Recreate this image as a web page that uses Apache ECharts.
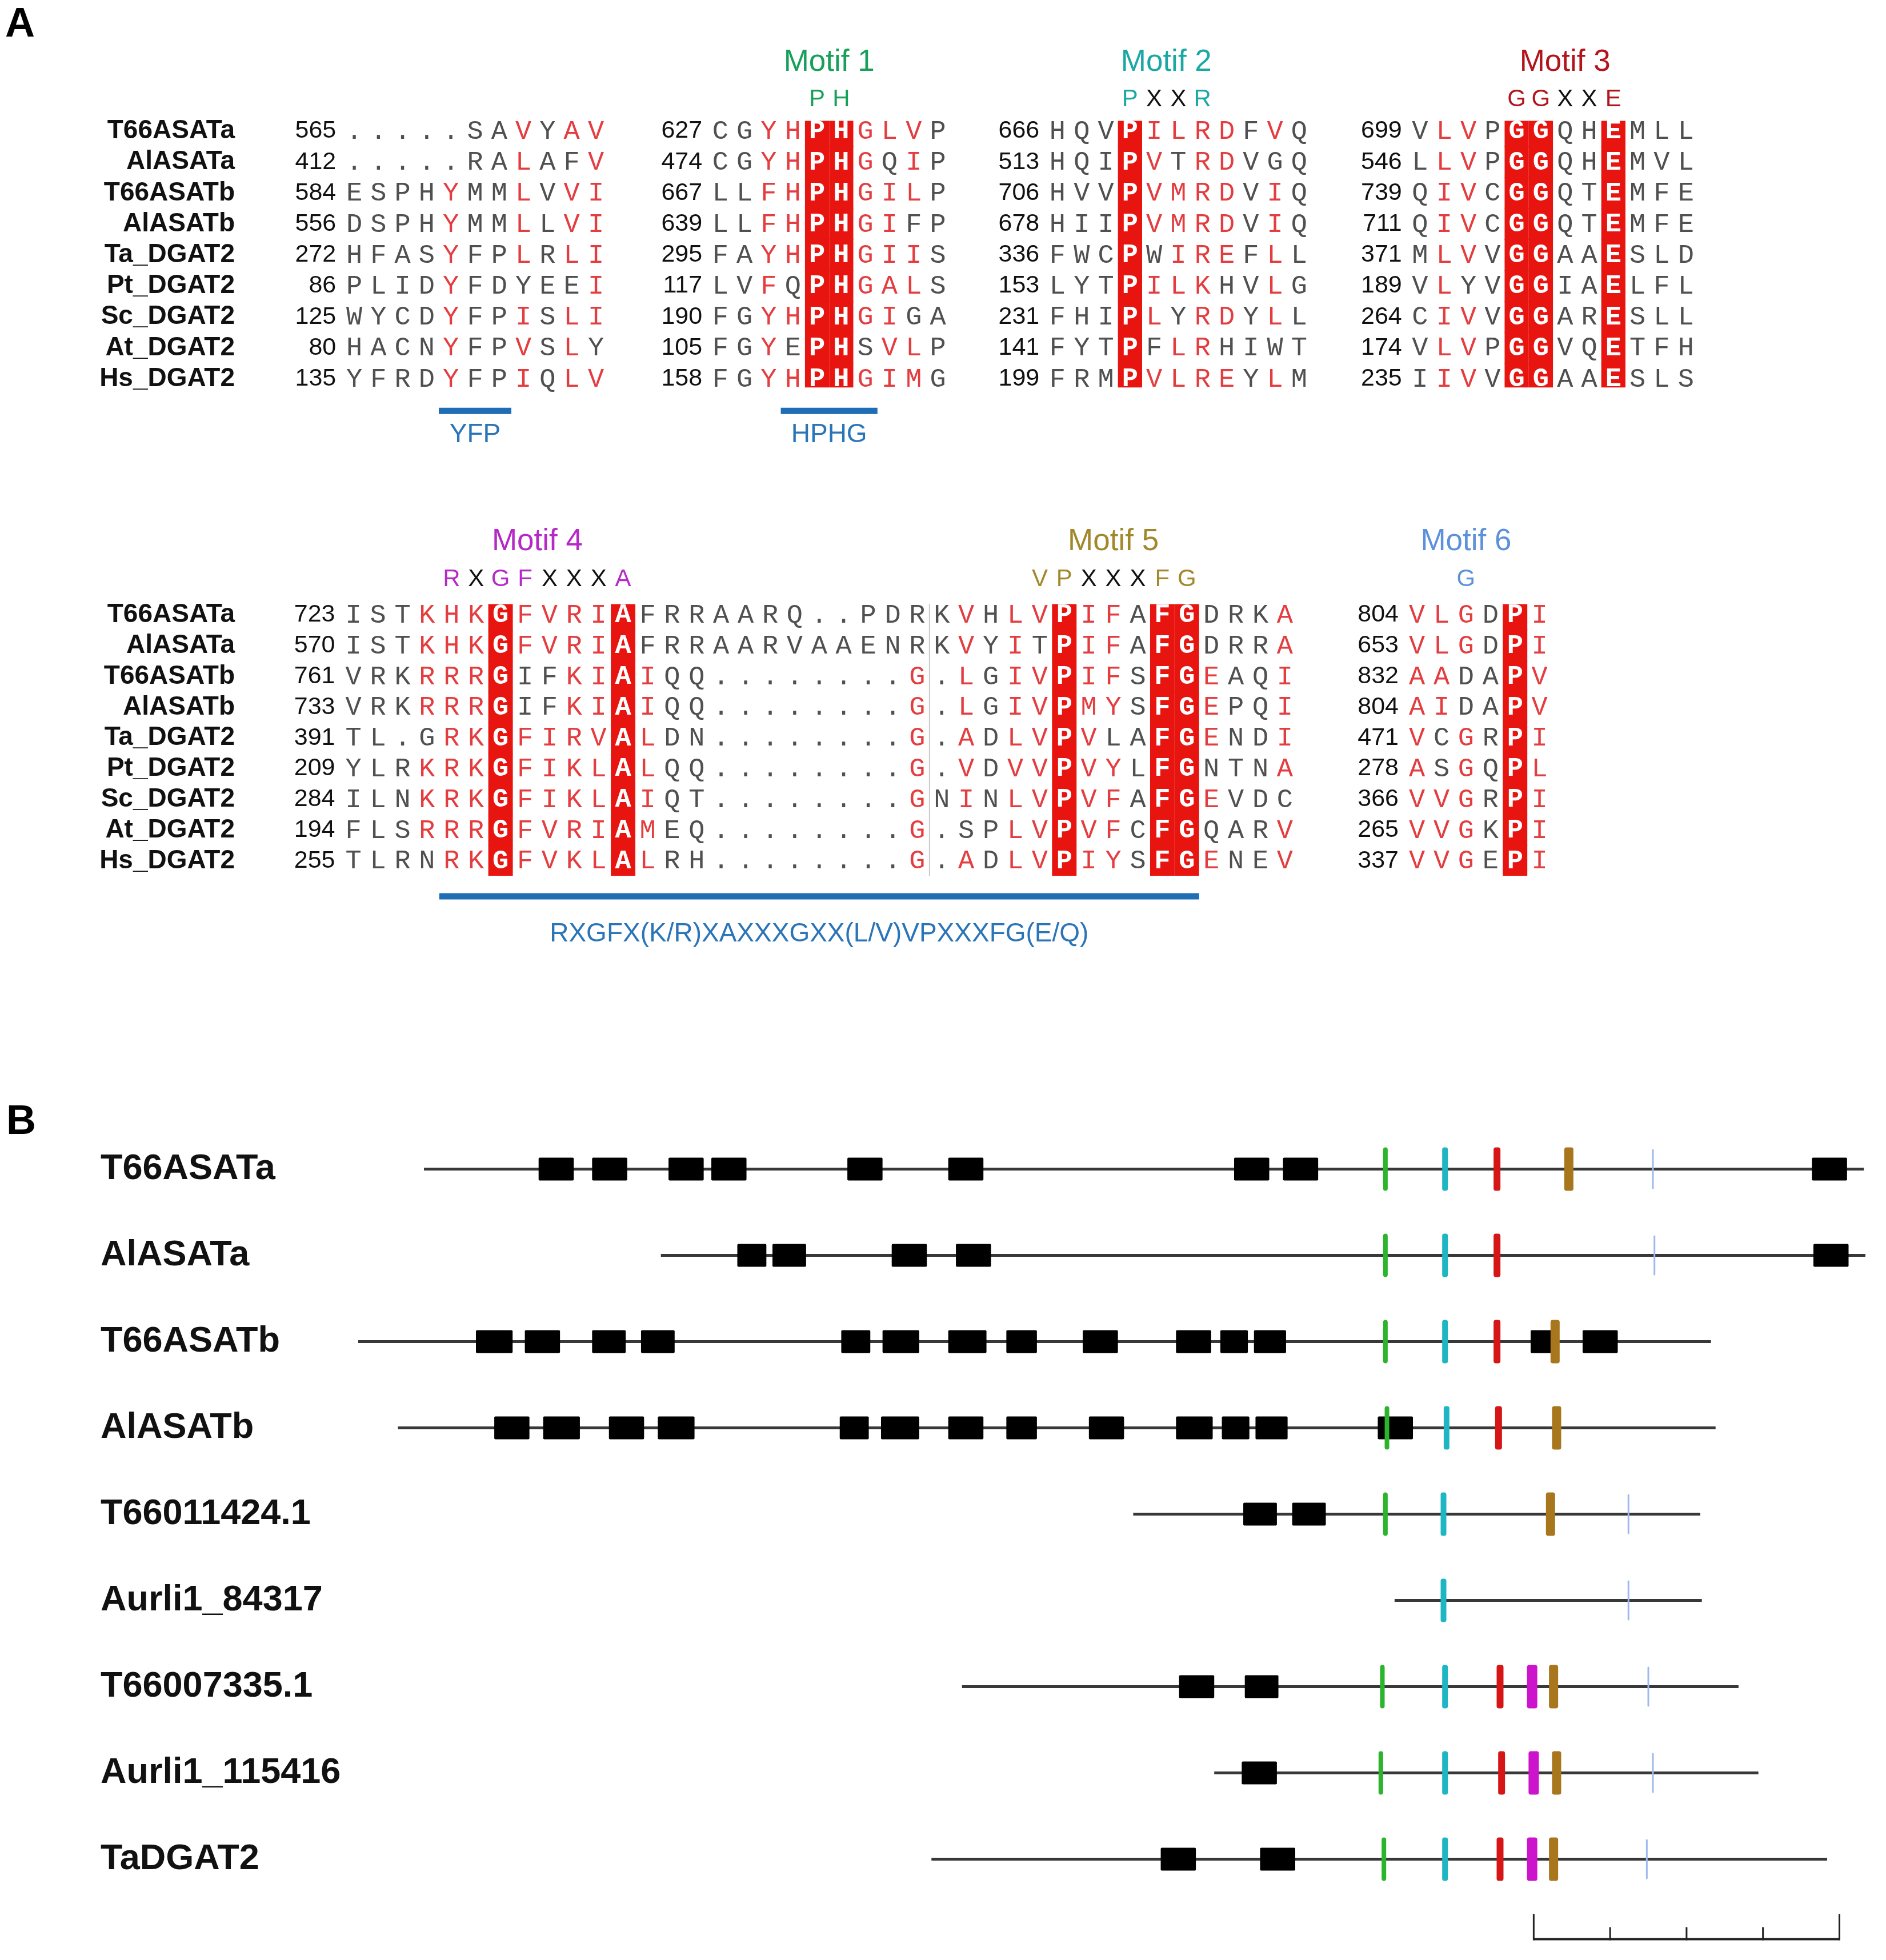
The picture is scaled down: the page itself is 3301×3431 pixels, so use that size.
<!DOCTYPE html>
<html>
<head>
<meta charset="utf-8">
<script src="https://cdn.jsdelivr.net/npm/echarts@6/dist/echarts.min.js"></script>
<style>
html, body { margin: 0; padding: 0; background: #fff; }
#main { width: 3301px; height: 3431px; }
</style>
</head>
<body>
<div id="main"></div>
<script>
// ---------- panel A : alignment ----------
var seqNames = ['T66ASATa', 'AlASATa', 'T66ASATb', 'AlASATb', 'Ta_DGAT2', 'Pt_DGAT2', 'Sc_DGAT2', 'At_DGAT2', 'Hs_DGAT2'];

// mask: g = grey letter, r = red letter, W = white letter in red box
var block1Start = [565, 412, 584, 556, 272, 86, 125, 80, 135];
var block1Seq = ['.....SAVYAV', '.....RALAFV', 'ESPHYMMLVVI', 'DSPHYMMLLVI', 'HFASYFPLRLI', 'PLIDYFDYEEI', 'WYCDYFPISLI', 'HACNYFPVSLY', 'YFRDYFPIQLV'];
var block1Mask = ['gggggggrgrr', 'gggggggrggr', 'ggggrggrgrr', 'ggggrggrgrr', 'ggggrggrgrr', 'ggggrgggggr', 'ggggrggrgrr', 'ggggrggrgrg', 'ggggrggrgrr'];

var block2Start = [627, 474, 667, 639, 295, 117, 190, 105, 158];
var block2Seq = ['CGYHPHGLVP', 'CGYHPHGQIP', 'LLFHPHGILP', 'LLFHPHGIFP', 'FAYHPHGIIS', 'LVFQPHGALS', 'FGYHPHGIGA', 'FGYEPHSVLP', 'FGYHPHGIMG'];
var block2Mask = ['ggrrWWrrrg', 'ggrrWWrgrg', 'ggrrWWrrrg', 'ggrrWWrrgg', 'ggrrWWrrrg', 'ggrgWWrrrg', 'ggrrWWrrgg', 'ggrgWWgrrg', 'ggrrWWrrrg'];

var block3Start = [666, 513, 706, 678, 336, 153, 231, 141, 199];
var block3Seq = ['HQVPILRDFVQ', 'HQIPVTRDVGQ', 'HVVPVMRDVIQ', 'HIIPVMRDVIQ', 'FWCPWIREFLL', 'LYTPILKHVLG', 'FHIPLYRDYLL', 'FYTPFLRHIWT', 'FRMPVLREYLM'];
var block3Mask = ['gggWrrrrgrg', 'gggWrgrrggg', 'gggWrrrrgrg', 'gggWrrrrgrg', 'gggWgrrrgrg', 'gggWrrrggrg', 'gggWrgrrgrg', 'gggWgrrgggg', 'gggWrrrrgrg'];

var block4Start = [699, 546, 739, 711, 371, 189, 264, 174, 235];
var block4Seq = ['VLVPGGQHEMLL', 'LLVPGGQHEMVL', 'QIVCGGQTEMFE', 'QIVCGGQTEMFE', 'MLVVGGAAESLD', 'VLYVGGIAELFL', 'CIVVGGARESLL', 'VLVPGGVQETFH', 'IIVVGGAAESLS'];
var block4Mask = ['grrgWWggWggg', 'grrgWWggWggg', 'grrgWWggWggg', 'grrgWWggWggg', 'grrgWWggWggg', 'grggWWggWggg', 'grrgWWggWggg', 'grrgWWggWggg', 'grrgWWggWggg'];

var block5Start = [723, 570, 761, 733, 391, 209, 284, 194, 255];
var block5Seq = [
    'ISTKHKGFVRIAFRRAARQ..PDRKVHLVPIFAFGDRKA',
    'ISTKHKGFVRIAFRRAARVAAENRKVYITPIFAFGDRRA',
    'VRKRRRGIFKIAIQQ........G.LGIVPIFSFGEAQI',
    'VRKRRRGIFKIAIQQ........G.LGIVPMYSFGEPQI',
    'TL.GRKGFIRVALDN........G.ADLVPVLAFGENDI',
    'YLRKRKGFIKLALQQ........G.VDVVPVYLFGNTNA',
    'ILNKRKGFIKLAIQT........GNINLVPVFAFGEVDC',
    'FLSRRRGFVRIAMEQ........G.SPLVPVFCFGQARV',
    'TLRNRKGFVKLALRH........G.ADLVPIYSFGENEV'
];
var block5Mask = [
    'gggrrr' + 'W' + 'rrrr' + 'W' + 'gggggggggggg' + 'grgrr' + 'W' + 'rrg' + 'WW' + 'gggr',
    'gggrrr' + 'W' + 'rrrr' + 'W' + 'gggggggggggg' + 'grgrg' + 'W' + 'rrg' + 'WW' + 'gggr',
    'gggrrr' + 'W' + 'ggrr' + 'W' + 'rgg' + 'gggggggg' + 'r' + 'grgrr' + 'W' + 'rrg' + 'WW' + 'rggr',
    'gggrrr' + 'W' + 'ggrr' + 'W' + 'rgg' + 'gggggggg' + 'r' + 'grgrr' + 'W' + 'rrg' + 'WW' + 'rggr',
    'ggggrr' + 'W' + 'rrrr' + 'W' + 'rgg' + 'gggggggg' + 'r' + 'grgrr' + 'W' + 'rgg' + 'WW' + 'rggr',
    'gggrrr' + 'W' + 'rrrr' + 'W' + 'rgg' + 'gggggggg' + 'r' + 'grgrr' + 'W' + 'rrg' + 'WW' + 'gggr',
    'gggrrr' + 'W' + 'rrrr' + 'W' + 'rgg' + 'gggggggg' + 'r' + 'grgrr' + 'W' + 'rrg' + 'WW' + 'rggg',
    'gggrrr' + 'W' + 'rrrr' + 'W' + 'rgg' + 'gggggggg' + 'r' + 'gggrr' + 'W' + 'rrg' + 'WW' + 'gggr',
    'ggggrr' + 'W' + 'rrrr' + 'W' + 'rgg' + 'gggggggg' + 'r' + 'grgrr' + 'W' + 'rrg' + 'WW' + 'rggr'
];

var block6Start = [804, 653, 832, 804, 471, 278, 366, 265, 337];
var block6Seq = ['VLGDPI', 'VLGDPI', 'AADAPV', 'AIDAPV', 'VCGRPI', 'ASGQPL', 'VVGRPI', 'VVGKPI', 'VVGEPI'];
var block6Mask = ['rrrgWr', 'rrrgWr', 'rrggWr', 'rrggWr', 'rgrgWr', 'rgrgWr', 'rrrgWr', 'rrrgWr', 'rrrgWr'];

// motifs (block index, first column, pattern)
var motifNames = ['Motif 1', 'Motif 2', 'Motif 3', 'Motif 4', 'Motif 5', 'Motif 6'];
var motifPattern = ['PH', 'PXXR', 'GGXXE', 'RXGFXXXA', 'VPXXXFG', 'G'];
var motifBlock = [1, 2, 3, 4, 4, 5];
var motifFirstCol = [4, 3, 4, 4, 28, 2];

// blue underlines
var underlineLabels = ['YFP', 'HPHG', 'RXGFX(K/R)XAXXXGXX(L/V)VPXXXFG(E/Q)'];
var underlineBlock = [0, 1, 4];
var underlineFrom = [4, 3, 4];
var underlineTo = [6, 6, 34];

// ---------- panel B : protein structures ----------
var geneNames = ['T66ASATa', 'AlASATa', 'T66ASATb', 'AlASATb', 'T66011424.1', 'Aurli1_84317', 'T66007335.1', 'Aurli1_115416', 'TaDGAT2'];
var geneStart = [43, 198, 0, 26, 507, 678, 395, 560, 375];
var geneEnd = [985, 986, 885, 888, 878, 879, 903, 916, 961];
var geneDomains = [
    [[118, 141], [153, 176], [203, 226], [231, 254], [320, 343], [386, 409], [573, 596], [605, 628], [951, 974]],
    [[248, 267], [271, 293], [349, 372], [391, 414], [952, 975]],
    [[77, 101], [109, 132], [153, 175], [185, 207], [316, 335], [343, 367], [386, 411], [424, 444], [474, 497], [535, 558], [564, 582], [586, 607], [767, 785], [801, 824]],
    [[89, 112], [121, 145], [164, 187], [196, 220], [315, 334], [342, 367], [386, 409], [424, 444], [478, 501], [535, 559], [565, 583], [587, 608], [667, 690]],
    [[579, 601], [611, 633]],
    [],
    [[537, 560], [580, 602]],
    [[578, 601]],
    [[525, 548], [590, 613]]
];
var motif1Pos = [672, 672, 672, 673, 672, null, 670, 669, 671];
var motif2Pos = [711, 711, 711, 712, 710, 710, 711, 711, 711];
var motif3Pos = [745, 745, 745, 746, null, null, 747, 748, 747];
var motif4Pos = [null, null, null, null, null, null, 768, 769, 768];
var motif5Pos = [792, null, 783, 784, 780, null, 782, 784, 782];
var motif6Pos = [847, 848, null, null, 831, 831, 844, 847, 843];
var scaleBarStart = 769;
var scaleTicks = [0, 50, 100, 150, 200];

// ---------- styles / layout ----------
var SANS = '"Liberation Sans", Arial, sans-serif';
var MONO = '"Liberation Mono", monospace';
var GREY = '#505050', RED = '#e43d40', BOX = '#e8140f', BLUE = '#1f6db5';
var motifColors = ['#18a05a', '#1ba8a4', '#b3141c', '#b52ac6', '#a1882a', '#5d92da'];
var markColors = ['#2cb42c', '#1db6c2', '#d61616', '#cc14cc', '#a8761c', '#9fb9ee'];
var markWidths = [8, 10, 12, 18, 16, 3];

var blocks = [
    {start: block1Start, seq: block1Seq, mask: block1Mask},
    {start: block2Start, seq: block2Seq, mask: block2Mask},
    {start: block3Start, seq: block3Seq, mask: block3Mask},
    {start: block4Start, seq: block4Seq, mask: block4Mask},
    {start: block5Start, seq: block5Seq, mask: block5Mask},
    {start: block6Start, seq: block6Seq, mask: block6Mask}
];
var blockPanel = [0, 0, 0, 0, 1, 1];
var blockOffset = [0, 15.15, 29.1, 44.1, 0, 43.39];
var cellW = [42.3, 42.9];
var cellOrigin = [620, 618.7];
var rowC0 = [229.6, 1076.6];
var rowStep = [54.2, 53.8];
var gridLeftA = 430, gridRightA = 10;
var boxPadTop = [18, 19], boxPadBot = [15, 26];
var motifLabelDy = [120, 128], motifPatDy = [55, 62];
var ulDy = [56, 62], ulLabelDy = [98, 128];

var chart = echarts.init(document.getElementById('main'));

function cellData(panel) {
    var out = [];
    blocks.forEach(function (bk, b) {
        if (blockPanel[b] !== panel) return;
        bk.seq.forEach(function (s, r) {
            for (var c = 0; c < s.length; c++) out.push([blockOffset[b] + c, r, b, r, c]);
        });
    });
    return out;
}
function numData(panel) {
    var out = [];
    blocks.forEach(function (bk, b) {
        if (blockPanel[b] !== panel) return;
        bk.start.forEach(function (n, r) { out.push([blockOffset[b] - 0.75, r, b, n]); });
    });
    return out;
}
function motifData(panel) {
    var out = [];
    motifNames.forEach(function (m, i) {
        if (blockPanel[motifBlock[i]] === panel) out.push([blockOffset[motifBlock[i]] + motifFirstCol[i], 0, i]);
    });
    return out;
}
function ulData(panel) {
    var out = [];
    underlineLabels.forEach(function (u, i) {
        var b = underlineBlock[i];
        if (blockPanel[b] === panel) out.push([blockOffset[b] + underlineFrom[i], 8, blockOffset[b] + underlineTo[i], i]);
    });
    return out;
}

function renderCell(params, api) {
    var b = api.value(2), r = api.value(3), c = api.value(4);
    var p = blockPanel[b];
    var pt = api.coord([api.value(0), r]);
    var sz = api.size([1, 1]);
    var ch = blocks[b].seq[r].charAt(c);
    var m = blocks[b].mask[r].charAt(c);
    var kids = [];
    if (m === 'W') {
        var top = pt[1] - sz[1] / 2 - 0.6, bot = pt[1] + sz[1] / 2 + 0.6;
        if (r === 0) top = pt[1] - boxPadTop[p];
        if (r === 8) bot = pt[1] + boxPadBot[p];
        kids.push({type: 'rect', shape: {x: pt[0] - sz[0] / 2, y: top, width: sz[0], height: bot - top}, style: {fill: BOX}});
    }
    kids.push({
        type: 'text',
        style: {
            x: pt[0], y: pt[1] + 1, text: ch, align: 'center', verticalAlign: 'middle',
            fill: m === 'W' ? '#fff' : (m === 'r' ? RED : GREY),
            font: (m === 'W' ? 'bold ' : '') + '47px ' + MONO
        }
    });
    return {type: 'group', children: kids};
}
function renderNum(params, api) {
    var pt = api.coord([api.value(0), api.value(1)]);
    return {type: 'text', style: {x: pt[0], y: pt[1], text: String(api.value(3)), align: 'right', verticalAlign: 'middle', fill: '#111', font: '43px ' + SANS}};
}
function renderMotif(params, api) {
    var i = api.value(2);
    var p = blockPanel[motifBlock[i]];
    var pat = motifPattern[i];
    var x0 = api.value(0);
    var mid = api.coord([x0 + (pat.length - 1) / 2, 0]);
    var kids = [{type: 'text', style: {x: mid[0], y: mid[1] - motifLabelDy[p], text: motifNames[i], align: 'center', verticalAlign: 'middle', fill: motifColors[i], font: '53px ' + SANS}}];
    for (var k = 0; k < pat.length; k++) {
        var q = api.coord([x0 + k, 0]);
        kids.push({type: 'text', style: {x: q[0], y: q[1] - motifPatDy[p], text: pat.charAt(k), align: 'center', verticalAlign: 'middle', fill: pat.charAt(k) === 'X' ? '#111' : motifColors[i], font: '42px ' + SANS}});
    }
    return {type: 'group', children: kids};
}
function renderUl(params, api) {
    var i = api.value(3);
    var p = blockPanel[underlineBlock[i]];
    var a = api.coord([api.value(0) - 0.5, 8]);
    var e = api.coord([api.value(2) + 0.5, 8]);
    var y = a[1] + ulDy[p];
    return {type: 'group', children: [
        {type: 'rect', shape: {x: a[0], y: y - 5.5, width: e[0] - a[0], height: 11}, style: {fill: BLUE}},
        {type: 'text', style: {x: (a[0] + e[0]) / 2, y: a[1] + ulLabelDy[p], text: underlineLabels[i], align: 'center', verticalAlign: 'middle', fill: '#2a74b8', font: '46px ' + SANS}}
    ]};
}
function renderSep(params, api) {
    var t = api.coord([api.value(0), 0]);
    var b = api.coord([api.value(0), 8]);
    return {type: 'line', shape: {x1: t[0], y1: t[1] - 19, x2: b[0], y2: b[1] + 26}, style: {stroke: '#c9c9c9', lineWidth: 2}};
}

// panel B
function renderBackbone(params, api) {
    var a = api.coord([api.value(0), api.value(2)]);
    var e = api.coord([api.value(1), api.value(2)]);
    return {type: 'line', shape: {x1: a[0], y1: a[1], x2: e[0], y2: e[1]}, style: {stroke: '#383838', lineWidth: 5}};
}
function renderDomain(params, api) {
    var a = api.coord([api.value(0), api.value(2)]);
    var e = api.coord([api.value(1), api.value(2)]);
    return {type: 'rect', shape: {x: a[0], y: a[1] - 20, width: e[0] - a[0], height: 40, r: 2}, style: {fill: '#000'}};
}
function renderMark(params, api) {
    var m = api.value(2);
    var pt = api.coord([api.value(0), api.value(1)]);
    var w = markWidths[m], h = m === 5 ? 70 : 76;
    return {type: 'rect', shape: {x: pt[0] - w / 2, y: pt[1] - h / 2, width: w, height: h, r: Math.min(w / 2, 4)}, style: {fill: markColors[m]}};
}
function renderScale(params, api) {
    var s = api.value(0), r = api.value(1);
    var base = api.coord([s, r]);
    var y0 = base[1] + 140;
    var last = scaleTicks[scaleTicks.length - 1];
    var kids = [{type: 'line', shape: {x1: base[0], y1: y0, x2: api.coord([s + last, r])[0], y2: y0}, style: {stroke: '#222', lineWidth: 4}}];
    scaleTicks.forEach(function (t, i) {
        var x = api.coord([s + t, r])[0];
        var h = (i === 0 || i === scaleTicks.length - 1) ? 44 : 21;
        kids.push({type: 'line', shape: {x1: x, y1: y0 + 2, x2: x, y2: y0 - h}, style: {stroke: '#222', lineWidth: 3}});
    });
    return {type: 'group', children: kids};
}

var backboneData = geneNames.map(function (g, r) { return [geneStart[r], geneEnd[r], r]; });
var domainData = [];
geneDomains.forEach(function (list, r) { list.forEach(function (d) { domainData.push([d[0], d[1], r]); }); });
var markData = [];
[motif1Pos, motif2Pos, motif3Pos, motif4Pos, motif5Pos, motif6Pos].forEach(function (arr, m) {
    arr.forEach(function (v, r) { if (v !== null) markData.push([v, r, m]); });
});

var widthA = 3301 - gridLeftA - gridRightA;
function xMinA(p) { return -(cellOrigin[p] - gridLeftA) / cellW[p]; }

var option = {
    animation: false,
    backgroundColor: '#fff',
    graphic: [
        {type: 'text', x: 9, y: 44, style: {text: 'A', font: 'bold 72px ' + SANS, fill: '#000', verticalAlign: 'middle'}},
        {type: 'text', x: 11, y: 1965, style: {text: 'B', font: 'bold 72px ' + SANS, fill: '#000', verticalAlign: 'middle'}}
    ],
    grid: [
        {left: gridLeftA, right: gridRightA, top: rowC0[0] - rowStep[0] / 2, height: rowStep[0] * 9},
        {left: gridLeftA, right: gridRightA, top: rowC0[1] - rowStep[1] / 2, height: rowStep[1] * 9},
        {left: 627, right: 12, top: 1971, height: 1359}
    ],
    xAxis: [
        {gridIndex: 0, type: 'value', min: xMinA(0), max: xMinA(0) + widthA / cellW[0], show: false},
        {gridIndex: 1, type: 'value', min: xMinA(1), max: xMinA(1) + widthA / cellW[1], show: false},
        {gridIndex: 2, type: 'value', min: 0, max: 995, show: false}
    ],
    yAxis: [0, 1].map(function (p) {
        return {
            gridIndex: p, type: 'category', data: seqNames, inverse: true,
            axisLine: {show: false}, axisTick: {show: false}, splitLine: {show: false},
            axisLabel: {interval: 0, margin: 19, fontFamily: SANS, fontWeight: 'bold', fontSize: 46, color: '#111'}
        };
    }).concat([{
        gridIndex: 2, type: 'category', data: geneNames, inverse: true,
        axisLine: {show: false}, axisTick: {show: false}, splitLine: {show: false},
        axisLabel: {interval: 0, align: 'left', margin: 451, fontFamily: SANS, fontWeight: 'bold', fontSize: 63, color: '#111'}
    }]),
    series: []
};

[0, 1].forEach(function (p) {
    option.series.push(
        {type: 'custom', name: 'cells' + p, xAxisIndex: p, yAxisIndex: p, clip: false, renderItem: renderCell, data: cellData(p), encode: {x: 0, y: 1}},
        {type: 'custom', name: 'numbers' + p, xAxisIndex: p, yAxisIndex: p, clip: false, renderItem: renderNum, data: numData(p), encode: {x: 0, y: 1}},
        {type: 'custom', name: 'motifs' + p, xAxisIndex: p, yAxisIndex: p, clip: false, renderItem: renderMotif, data: motifData(p), encode: {x: 0, y: 1}},
        {type: 'custom', name: 'underlines' + p, xAxisIndex: p, yAxisIndex: p, clip: false, renderItem: renderUl, data: ulData(p), encode: {x: 0, y: 1}}
    );
});
option.series.push(
    {type: 'custom', name: 'separator', xAxisIndex: 1, yAxisIndex: 1, clip: false, renderItem: renderSep, data: [[blockOffset[4] + 23.5, 0]], encode: {x: 0, y: 1}, z: 1},
    {type: 'custom', name: 'backbone', xAxisIndex: 2, yAxisIndex: 2, clip: false, renderItem: renderBackbone, data: backboneData, encode: {x: [0, 1], y: 2}, z: 2},
    {type: 'custom', name: 'domains', xAxisIndex: 2, yAxisIndex: 2, clip: false, renderItem: renderDomain, data: domainData, encode: {x: [0, 1], y: 2}, z: 3},
    {type: 'custom', name: 'motifMarks', xAxisIndex: 2, yAxisIndex: 2, clip: false, renderItem: renderMark, data: markData, encode: {x: 0, y: 1}, z: 4},
    {type: 'custom', name: 'scaleBar', xAxisIndex: 2, yAxisIndex: 2, clip: false, renderItem: renderScale, data: [[scaleBarStart, 8]], encode: {x: 0, y: 1}, z: 4}
);

chart.setOption(option);
</script>
</body>
</html>
